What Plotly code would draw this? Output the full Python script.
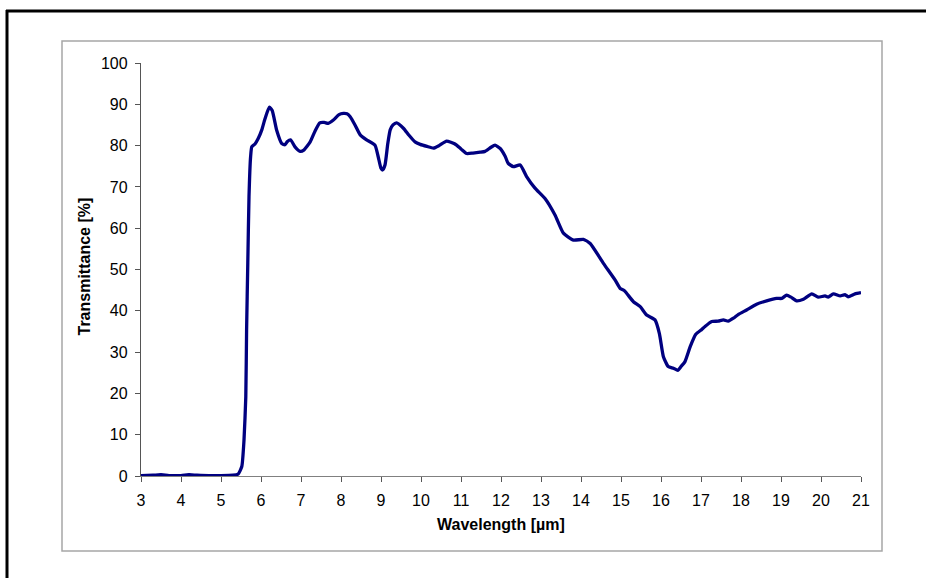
import plotly.graph_objects as go

wavelength = [3.0, 3.3, 3.5, 3.7, 4.0, 4.2, 4.4, 4.7, 5.0, 5.3, 5.43, 5.52, 5.575, 5.62, 5.64,
              5.67, 5.70, 5.74, 5.77, 5.85, 5.93, 6.02, 6.1, 6.21, 6.28, 6.39, 6.52, 6.6, 6.66,
              6.74, 6.85, 6.98, 7.07, 7.23, 7.35, 7.47, 7.58, 7.68, 7.81, 7.95, 8.06, 8.15, 8.23,
              8.35, 8.48, 8.64, 8.85, 8.93, 9.0, 9.04, 9.1, 9.17, 9.23, 9.3, 9.39, 9.56, 9.7,
              9.85, 9.98, 10.15, 10.31, 10.45, 10.64, 10.85, 11.0, 11.14, 11.3, 11.48, 11.6,
              11.75, 11.85, 11.98, 12.1, 12.18, 12.31, 12.48, 12.64, 12.85, 13.1, 13.35, 13.56,
              13.81, 14.06, 14.23, 14.56, 14.85, 14.98, 15.08, 15.31, 15.48, 15.64, 15.85, 15.96,
              16.06, 16.18, 16.31, 16.42, 16.5, 16.6, 16.73, 16.87, 17.02, 17.1, 17.27, 17.43,
              17.56, 17.68, 17.81, 17.93, 18.14, 18.39, 18.64, 18.89, 19.02, 19.14, 19.25, 19.39,
              19.56, 19.77, 19.93, 20.1, 20.18, 20.31, 20.48, 20.6, 20.68, 20.85, 21.0]
transmittance = [0.1, 0.2, 0.3, 0.1, 0.1, 0.3, 0.2, 0.1, 0.1, 0.2, 0.5, 2.3, 8.7, 19.2, 35.4,
                 51.6, 67.6, 77.3, 79.7, 80.4, 81.7, 83.8, 86.5, 89.3, 88.5, 83.8, 80.5, 80.2, 81.0,
                 81.4, 79.7, 78.6, 78.9, 80.9, 83.5, 85.5, 85.6, 85.4, 86.2, 87.5, 87.8, 87.7, 87.0,
                 85.0, 82.6, 81.4, 80.1, 77.3, 74.5, 74.1, 75.3, 80.5, 83.8, 85.0, 85.5, 84.2, 82.5,
                 80.9, 80.3, 79.8, 79.4, 80.0, 81.1, 80.4, 79.2, 78.1, 78.2, 78.4, 78.6,
                 79.6, 80.1, 79.3, 77.5, 75.7, 74.9, 75.3, 72.5, 69.7, 67.2, 63.2, 58.8,
                 57.1, 57.3, 56.3, 51.5, 47.5, 45.4, 44.9, 42.2, 41.0, 39.0, 37.8, 34.5,
                 28.9, 26.5, 26.1, 25.6, 26.5, 27.7, 31.3, 34.3, 35.5, 36.2, 37.4, 37.5,
                 37.8, 37.5, 38.2, 39.1, 40.2, 41.6, 42.4, 43.0, 43.0, 43.8, 43.3, 42.4,
                 42.8, 44.1, 43.3, 43.6, 43.3, 44.1, 43.6, 43.9, 43.4, 44.1, 44.4]

x_ticks = list(range(3, 22))
y_ticks = list(range(0, 101, 10))

W, H = 926, 578
L, R, T, B = 141, 861, 63, 476  # plot area in pixels

fig = go.Figure()
fig.add_trace(go.Scatter(
    x=wavelength, y=transmittance, mode="lines",
    line=dict(color="#000080", width=3.3, shape="spline", smoothing=0.5),
    cliponaxis=False, hoverinfo="skip", showlegend=False,
))

font_family = "Liberation Sans, Arial, sans-serif"

def px2paper_x(px):
    return (px - L) / (R - L)

def px2paper_y(py):
    return (B - py) / (B - T)

fig.update_layout(
    width=W, height=H,
    margin=dict(l=L, r=W - R, t=T, b=H - B, pad=0),
    paper_bgcolor="white", plot_bgcolor="white",
    font=dict(family=font_family, size=16, color="black"),
    xaxis=dict(
        range=[3, 21], tickvals=x_ticks, ticktext=[str(v) for v in x_ticks],
        showgrid=False, zeroline=False, showline=True, linecolor="#808080", linewidth=1.3,
        ticks="outside", ticklen=5, tickcolor="#555555", tickwidth=1,
        tickfont=dict(size=16, color="black"), layer="below traces",
        ticklabelstandoff=5,
    ),
    yaxis=dict(
        range=[0, 100], tickvals=y_ticks, ticktext=[str(v) for v in y_ticks],
        showgrid=False, zeroline=False, showline=True, linecolor="#555555", linewidth=1.3,
        ticks="outside", ticklen=5, tickcolor="#555555", tickwidth=1,
        tickfont=dict(size=16, color="black"), layer="below traces",
        ticklabelstandoff=4,
    ),
    shapes=[
        # outer black frame (top and left edges visible)
        dict(type="line", xref="paper", yref="paper",
             x0=px2paper_x(6), x1=px2paper_x(W + 20), y0=px2paper_y(11), y1=px2paper_y(11),
             line=dict(color="black", width=3)),
        dict(type="line", xref="paper", yref="paper",
             x0=px2paper_x(7), x1=px2paper_x(7), y0=px2paper_y(10), y1=px2paper_y(H + 20),
             line=dict(color="black", width=3)),
        # inner gray chart-area box
        dict(type="rect", xref="paper", yref="paper",
             x0=px2paper_x(62), x1=px2paper_x(882), y0=px2paper_y(551), y1=px2paper_y(41),
             line=dict(color="#a6a6a6", width=1.5), layer="below"),
    ],
    annotations=[
        dict(text="<b>Wavelength [µm]</b>", xref="paper", yref="paper",
             x=0.5, y=px2paper_y(524), xanchor="center", yanchor="middle",
             showarrow=False, font=dict(size=16, color="black")),
        dict(text="<b>Transmittance [%]</b>", xref="paper", yref="paper",
             x=px2paper_x(84), y=px2paper_y(266.5), xanchor="center", yanchor="middle",
             textangle=-90, showarrow=False, font=dict(size=16, color="black")),
    ],
)

fig.write_html("out.html", config={"displayModeBar": False},
               post_script="document.body.style.margin='0';")
